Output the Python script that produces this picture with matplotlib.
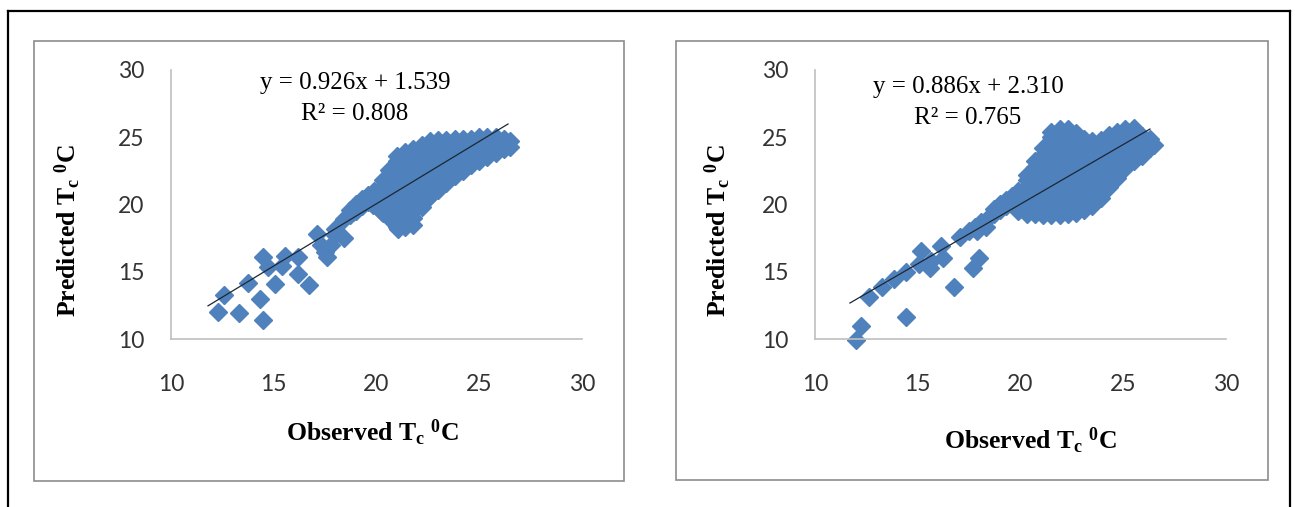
import matplotlib.pyplot as plt
from matplotlib.patches import Rectangle
from matplotlib.lines import Line2D

plt.rcParams['mathtext.fontset'] = 'custom'
plt.rcParams['mathtext.rm'] = 'Liberation Serif:bold'
plt.rcParams['mathtext.it'] = 'Liberation Serif:bold'
plt.rcParams['mathtext.bf'] = 'Liberation Serif:bold'

# ---- left panel: scattered points
obs_a = [12.3, 12.6, 13.3, 13.75, 14.35, 14.5, 14.5, 14.7, 15.05, 15.55, 15.4,
         16.2, 16.2, 16.7, 17.1, 17.5, 17.8, 17.3, 17.6, 18.0, 18.0, 18.4,
         18.85, 19.25, 19.85, 20.25, 20.85, 21.05, 21.65, 22.5]
pred_a = [12.0, 13.3, 11.9, 14.2, 13.0, 11.4, 16.1, 15.35, 14.1, 16.2, 15.45,
          14.85, 16.1, 14.0, 17.8, 16.5, 17.0, 17.0, 16.1, 18.2, 17.7, 17.5,
          19.45, 20.2, 19.95, 19.45, 18.95, 18.2, 18.95, 20.45]
# left panel: the dense band, one column of points per observed value
band_x_a = [18.4, 18.7, 19.0, 19.3, 19.6, 19.9, 20.3, 20.6, 21.0, 21.4, 21.8,
            22.2, 22.6, 23.0, 23.4, 23.8, 24.2, 24.6, 25.0, 25.4, 25.8, 26.2, 26.5]
band_y_a = [
    [18.9],
    [19.2, 19.6],
    [19.5, 20.0],
    [19.9, 20.4],
    [20.2, 20.7],
    [20.5, 21.0],
    [19.4, 19.9, 20.4, 20.9, 21.4, 21.8],
    [19.0, 19.5, 20.0, 20.5, 21.0, 21.5, 22.0, 22.6],
    [18.3, 18.8, 19.3, 19.8, 20.3, 20.8, 21.3, 21.8, 22.3, 22.8, 23.2, 23.6],
    [18.3, 18.8, 19.3, 19.8, 20.3, 20.8, 21.3, 21.8, 22.3, 22.8, 23.3, 23.9],
    [18.5, 19.0, 19.5, 20.0, 20.5, 21.0, 21.5, 22.0, 22.5, 23.0, 23.5, 24.1],
    [19.8, 20.3, 20.8, 21.3, 21.8, 22.3, 22.8, 23.3, 23.8, 24.4],
    [20.6, 21.1, 21.6, 22.1, 22.6, 23.1, 23.6, 24.1, 24.7],
    [21.1, 21.6, 22.1, 22.6, 23.1, 23.6, 24.1, 24.5, 24.8],
    [21.6, 22.1, 22.6, 23.1, 23.6, 24.1, 24.5, 24.8],
    [22.1, 22.6, 23.1, 23.6, 24.1, 24.5, 24.9],
    [22.5, 23.0, 23.5, 24.0, 24.5, 24.9],
    [22.9, 23.4, 23.9, 24.4, 24.9],
    [23.2, 23.7, 24.2, 24.6, 25.0],
    [23.5, 24.0, 24.5, 25.0],
    [23.8, 24.3, 24.7, 25.0],
    [24.1, 24.5, 24.9],
    [24.3, 24.7],
]

# ---- right panel: scattered points
obs_b = [12.0, 12.25, 12.65, 14.45, 15.15, 16.15, 16.75, 17.7, 18.0, 17.05,
         13.25, 13.85, 14.45, 15.05, 15.65, 16.25, 15.6, 17.5, 17.9, 18.3]
pred_b = [9.9, 11.0, 13.1, 11.6, 16.55, 16.95, 13.85, 15.3, 16.05, 17.55,
          13.85, 14.45, 14.95, 15.6, 15.8, 16.05, 15.3, 18.05, 18.05, 18.3]
band_x_b = [17.8, 18.1, 18.4, 18.7, 19.0, 19.3, 19.6, 19.9, 20.3, 20.7, 21.1,
            21.5, 21.9, 22.3, 22.7, 23.1, 23.5, 23.9, 24.3, 24.7, 25.1, 25.5,
            25.9, 26.3, 26.5]
band_y_b = [
    [18.3],
    [18.7],
    [19.0],
    [19.3, 19.7],
    [19.6, 20.0],
    [19.9, 20.3],
    [20.2, 20.6],
    [19.5, 20.0, 20.5, 21.0],
    [19.3, 19.8, 20.3, 20.8, 21.3, 21.8, 22.2],
    [19.3, 19.8, 20.3, 20.8, 21.3, 21.8, 22.3, 22.8, 23.2],
    [19.2, 19.7, 20.2, 20.7, 21.2, 21.7, 22.2, 22.7, 23.2, 23.7, 24.2],
    [19.2, 19.6, 20.0, 20.5, 21.0, 21.5, 22.0, 22.5, 23.0, 23.5, 24.0, 24.5, 25.0, 25.4],
    [19.2, 19.7, 20.2, 20.7, 21.2, 21.7, 22.2, 22.7, 23.2, 23.7, 24.2, 24.7, 25.2, 25.6],
    [19.3, 19.8, 20.3, 20.8, 21.3, 21.8, 22.3, 22.8, 23.3, 23.8, 24.3, 24.8, 25.2, 25.6],
    [19.4, 19.9, 20.4, 20.9, 21.4, 21.9, 22.4, 22.9, 23.4, 23.9, 24.4, 24.9, 25.3],
    [19.6, 20.1, 20.6, 21.1, 21.6, 22.1, 22.6, 23.1, 23.6, 24.1, 24.5, 24.9],
    [19.9, 20.4, 20.9, 21.4, 21.9, 22.4, 22.9, 23.4, 23.9, 24.3, 24.7],
    [20.5, 21.0, 21.5, 22.0, 22.5, 23.0, 23.5, 24.0, 24.4, 24.8],
    [21.3, 21.8, 22.3, 22.8, 23.3, 23.8, 24.3, 24.8, 25.2],
    [22.0, 22.5, 23.0, 23.5, 24.0, 24.5, 25.0, 25.4],
    [22.7, 23.2, 23.7, 24.2, 24.7, 25.2, 25.6],
    [23.2, 23.7, 24.2, 24.7, 25.2, 25.7],
    [23.6, 24.1, 24.6, 25.1],
    [24.2, 24.6, 24.9],
    [24.4],
]

# trend lines (slope, intercept, r2) and their x extent
fit_a = (0.926, 1.539, 0.808)
fit_b = (0.886, 2.310, 0.765)
line_x_a = [11.8, 26.4]
line_x_b = [11.7, 26.3]

ticks = [10, 15, 20, 25, 30]
blue = '#4f81bd'

W, H = 1295, 507
fig = plt.figure(figsize=(W / 100, H / 100), dpi=100)


def fx(px):
    return px / W


def fy(py):
    return 1 - py / H


# outer table frame
for xs, ys in [([8, 1290], [11, 11]), ([8, 8], [11, 507]), ([1290, 1290], [11, 507])]:
    fig.add_artist(Line2D([fx(v) for v in xs], [fy(v) for v in ys],
                          color='black', lw=1.6, transform=fig.transFigure))

# chart area boxes
for x0, y0, x1, y1 in [(34, 41, 624, 481), (676, 41, 1268, 480)]:
    fig.add_artist(Rectangle((fx(x0), fy(y1)), fx(x1) - fx(x0), fy(y0) - fy(y1),
                             transform=fig.transFigure, fill=False,
                             edgecolor='#8c8c8c', lw=1.2))

panels = [
    (171, obs_a, pred_a, band_x_a, band_y_a, fit_a, line_x_a,
     (18.95, 29.05), (18.95, 26.75), (373, 433), (68, 230)),
    (815, obs_b, pred_b, band_x_b, band_y_b, fit_b, line_x_b,
     (17.45, 28.7), (17.45, 26.4), (1031, 441), (718, 230)),
]

for left, obs, pred, bx, by, fit, lx, eq_pos, r2_pos, xl_pos, yl_pos in panels:
    ax = fig.add_axes([fx(left), fy(339), 411 / W, 269 / H])
    xs = list(obs)
    ys = list(pred)
    for x, col in zip(bx, by):
        xs += [x] * len(col)
        ys += col
    ax.plot(xs, ys, ls='none', marker='D', ms=8.8, color=blue, mec=blue,
            clip_on=False, zorder=2)
    slope, icpt, r2 = fit
    ax.plot(lx, [slope * v + icpt for v in lx], color='#1c2733', lw=0.9, zorder=3)

    ax.set_xlim(10, 30)
    ax.set_ylim(10, 30)
    ax.set_xticks(ticks)
    ax.set_yticks(ticks)
    for s in ['top', 'right']:
        ax.spines[s].set_visible(False)
    for s in ['left', 'bottom']:
        ax.spines[s].set_color('#bfbfbf')
        ax.spines[s].set_linewidth(1.2)
    ax.tick_params(length=0, labelsize=16.5, colors='#333333')
    ax.tick_params(axis='x', pad=25)
    ax.tick_params(axis='y', pad=19)
    for lab in ax.get_xticklabels() + ax.get_yticklabels():
        lab.set_fontfamily('Lato')

    ax.text(*eq_pos, 'y = %.3fx + %.3f' % (slope, icpt), ha='center', va='center',
            fontsize=18, family='Liberation Serif')
    ax.text(*r2_pos, 'R² = %.3f' % r2, ha='center', va='center',
            fontsize=18, family='Liberation Serif')

    fig.text(fx(xl_pos[0]), fy(xl_pos[1]), r'Observed T$_\mathrm{c}$ $^\mathrm{0}$C',
             ha='center', va='center', fontsize=18.5, fontweight='bold',
             family='Liberation Serif')
    fig.text(fx(yl_pos[0]), fy(yl_pos[1]), r'Predicted T$_\mathrm{c}$ $^\mathrm{0}$C',
             ha='center', va='center', fontsize=18.5, fontweight='bold',
             family='Liberation Serif', rotation=90)

fig.savefig('out.png', dpi=100)
